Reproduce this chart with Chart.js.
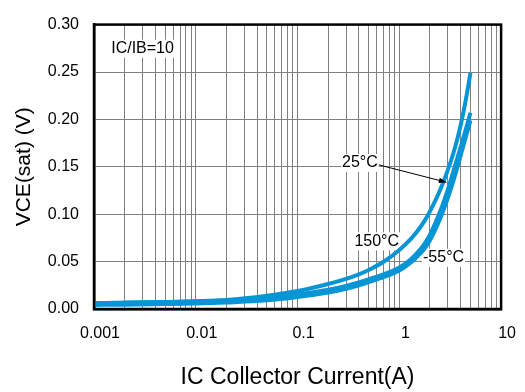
<!DOCTYPE html>
<html>
<head>
<meta charset="utf-8">
<script src="https://cdn.jsdelivr.net/npm/chart.js@4/dist/chart.umd.min.js"></script>
<style>
  body { margin: 0; background: #fff; }
</style>
</head>
<body>
<canvas id="chart" width="525" height="392"></canvas>
<script>
// collector current (A), log axis
const current = [0.001, 0.002, 0.005, 0.01, 0.02, 0.05, 0.1, 0.2, 0.3, 0.4, 0.5, 0.7, 1, 1.3, 1.6, 1.8, 2, 2.5, 3, 3.5, 4, 4.5, 5]

// VCE(sat) in volts
const vce150 = [0.0063, 0.0067, 0.0074, 0.0082, 0.0096, 0.0141, 0.0190, 0.0264, 0.0318, 0.0366, 0.0411, 0.0498, 0.0623, 0.0739, 0.0860, 0.0943, 0.1030, 0.1248, 0.1467, 0.1691, 0.1937, 0.2207, 0.249]
const vce25 = [0.0063, 0.0066, 0.0072, 0.0078, 0.0089, 0.0115, 0.0153, 0.0203, 0.0244, 0.0280, 0.0313, 0.0365, 0.0437, 0.0526, 0.0627, 0.0701, 0.0785, 0.1021, 0.1263, 0.1499, 0.1707, 0.1895, 0.207]
const vceMinus55 = [0.0043, 0.0046, 0.0052, 0.0058, 0.0069, 0.0091, 0.0127, 0.0175, 0.0214, 0.0250, 0.0283, 0.0335, 0.0405, 0.0490, 0.0583, 0.0649, 0.0725, 0.0945, 0.1173, 0.1399, 0.1617, 0.1815, 0.199]

// axis ticks
const xDecades = [0.001, 0.01, 0.1, 1, 10]
const xDecadeLabels = ['0.001', '0.01', '0.1', '1', '10']
const xMinorSteps = [2, 3, 4, 5, 6, 7, 8, 9]

// text notes on the plot (data coordinates)
const noteTexts = ['IC/IB=10', '25°C', '150°C', '-55°C']
const noteX = [0.003, 0.41, 0.6, 2.72]
const noteY = [0.2745, 0.154, 0.0714, 0.054]
const arrowFrom = [0.63, 0.152]
const arrowTo = [2.9, 0.1337]

const blue = '#0795d6'
Chart.defaults.font.family = "'Liberation Sans', Arial, sans-serif"
Chart.defaults.color = '#000'

const xGrid = []
xDecades.forEach((d, i) => {
    xGrid.push(d)
    if (i < xDecades.length - 1) xMinorSteps.forEach(m => xGrid.push(+(d * m).toPrecision(3)))
})

const toPoints = ys => current.map((c, i) => ({ x: c, y: ys[i] }))

const lineStyle = {
    borderColor: blue,
    borderWidth: 4,
    pointRadius: 0,
    fill: false,
    cubicInterpolationMode: 'monotone',
}

const notesPlugin = {
    id: 'notes',
    beforeDatasetsDraw(chart) {
        const { ctx, scales: { x, y } } = chart
        ctx.save()
        ctx.font = "16px 'Liberation Sans', Arial, sans-serif"
        ctx.textAlign = 'center'
        ctx.textBaseline = 'middle'
        noteTexts.forEach((t, i) => {
            const px = x.getPixelForValue(noteX[i])
            const py = y.getPixelForValue(noteY[i])
            const w = ctx.measureText(t).width
            ctx.fillStyle = '#fff'
            ctx.fillRect(px - w / 2 - 1, py - 9, w + 2, 18)
            ctx.fillStyle = '#000'
            ctx.fillText(t, px, py)
        })
        ctx.restore()
    },
    afterDatasetsDraw(chart) {
        const { ctx, chartArea: a, scales: { x, y } } = chart
        ctx.save()
        // arrow for 25°C
        const x1 = x.getPixelForValue(arrowFrom[0]), y1 = y.getPixelForValue(arrowFrom[1])
        const x2 = x.getPixelForValue(arrowTo[0]), y2 = y.getPixelForValue(arrowTo[1])
        ctx.strokeStyle = '#000'
        ctx.fillStyle = '#000'
        ctx.lineWidth = 1
        ctx.beginPath()
        ctx.moveTo(x1, y1)
        ctx.lineTo(x2, y2)
        ctx.stroke()
        const ang = Math.atan2(y2 - y1, x2 - x1)
        ctx.beginPath()
        ctx.moveTo(x2, y2)
        ctx.lineTo(x2 - 8 * Math.cos(ang - 0.35), y2 - 8 * Math.sin(ang - 0.35))
        ctx.lineTo(x2 - 8 * Math.cos(ang + 0.35), y2 - 8 * Math.sin(ang + 0.35))
        ctx.closePath()
        ctx.fill()
        // frame
        ctx.lineWidth = 2.5
        ctx.strokeRect(a.left, a.top, a.right - a.left, a.bottom - a.top)
        ctx.restore()
    },
}

new Chart(document.getElementById('chart'), {
    type: 'line',
    data: {
        datasets: [
            { label: '150°C', data: toPoints(vce150), ...lineStyle },
            { label: '25°C', data: toPoints(vce25), ...lineStyle },
            { label: '-55°C', data: toPoints(vceMinus55), ...lineStyle },
        ],
    },
    options: {
        responsive: false,
        animation: false,
        layout: { padding: { left: 0, top: 15, right: 22, bottom: 0 } },
        plugins: { legend: { display: false }, tooltip: { enabled: false } },
        scales: {
            x: {
                type: 'logarithmic',
                min: 0.001,
                max: 10,
                afterBuildTicks: s => { s.ticks = xGrid.map(v => ({ value: v })) },
                afterFit: s => { s.height = 83 },
                ticks: {
                    autoSkip: false,
                    maxRotation: 0,
                    padding: 15,
                    labelOffset: 6,
                    font: { size: 16 },
                    callback: v => {
                        const i = xDecades.findIndex(d => Math.abs(d - v) / d < 1e-6)
                        return i >= 0 ? xDecadeLabels[i] : ''
                    },
                },
                grid: { color: '#808080', lineWidth: 1, drawTicks: false },
                border: { color: '#000', width: 2.5 },
                title: {
                    display: true,
                    text: 'IC Collector Current(A)',
                    font: { size: 23 },
                    padding: { top: 0, bottom: 1 },
                },
            },
            y: {
                min: 0,
                max: 0.3,
                afterFit: s => { s.width = 94 },
                ticks: {
                    stepSize: 0.05,
                    padding: 15,
                    font: { size: 16 },
                    callback: v => v.toFixed(2),
                },
                grid: { color: '#808080', lineWidth: 1, drawTicks: false },
                border: { color: '#000', width: 2.5 },
                title: {
                    display: true,
                    text: 'VCE(sat) (V)',
                    font: { size: 21 },
                    padding: { top: 12, bottom: 0 },
                },
            },
        },
    },
    plugins: [notesPlugin],
})
</script>
</body>
</html>
